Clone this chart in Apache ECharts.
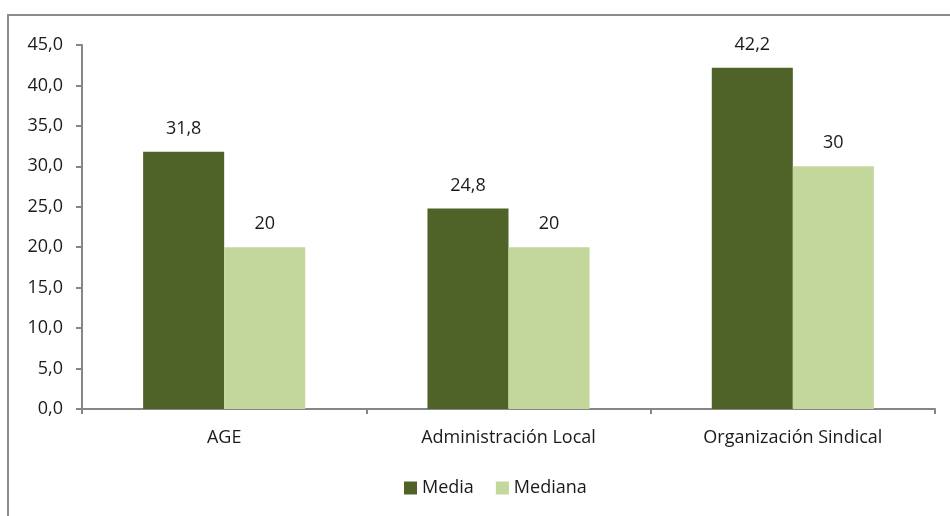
<!DOCTYPE html>
<html>
<head>
<meta charset="utf-8">
<script src="https://cdn.jsdelivr.net/npm/echarts@6/dist/echarts.min.js"></script>
<style>
    html, body { margin: 0; padding: 0; background: #fff; overflow: hidden; }
    #frame {
        position: absolute; left: 7px; top: 14px; width: 1000px; height: 600px;
        border-top: 2px solid #8c8c8c; border-left: 2px solid #8c8c8c;
    }
    #main { position: absolute; left: 0; top: 0; width: 950px; height: 516px; }
</style>
</head>
<body>
<div id="frame"></div>
<div id="main"></div>
<script>
var categories = ['AGE', 'Administración Local', 'Organización Sindical'];
var mediaData = [31.8, 24.8, 42.2];
var medianaData = [20, 20, 30];
var yTicks = [0, 5, 10, 15, 20, 25, 30, 35, 40, 45];

var darkGreen = '#4F6228';
var lightGreen = '#C3D69B';
var axisColor = '#868686';
var fontName = '"Open Sans", sans-serif';
var textColor = '#1a1a1a';

function comma(v) {
    return String(v).replace('.', ',');
}

var chart = echarts.init(document.getElementById('main'));
var option = {
    animation: false,
    grid: {
        left: 82,
        right: 15,
        top: 45,
        bottom: 107,
        containLabel: false
    },
    legend: {
        bottom: 14,
        left: 399,
        itemWidth: 13,
        itemHeight: 13,
        itemGap: 22,
        itemStyle: { borderWidth: 0 },
        icon: 'rect',
        textStyle: {
            fontFamily: fontName,
            fontSize: 18,
            color: textColor
        },
        data: ['Media', 'Mediana']
    },
    xAxis: {
        type: 'category',
        data: categories,
        axisLine: { lineStyle: { color: axisColor, width: 2 } },
        axisTick: { show: true, length: 5, lineStyle: { color: axisColor, width: 2 } },
        axisLabel: {
            fontFamily: fontName,
            fontSize: 18,
            color: textColor,
            margin: 20
        }
    },
    yAxis: {
        type: 'value',
        min: 0,
        max: 45,
        interval: 5,
        axisLine: { show: true, lineStyle: { color: axisColor, width: 2 } },
        axisTick: { show: true, length: 6, lineStyle: { color: axisColor, width: 2 } },
        splitLine: { show: false },
        axisLabel: {
            fontFamily: fontName,
            fontSize: 18,
            color: textColor,
            margin: 19,
            formatter: function (v) {
                return yTicks.indexOf(v) >= 0 ? v.toFixed(1).replace('.', ',') : '';
            }
        }
    },
    series: [{
        name: 'Media',
        type: 'bar',
        data: mediaData,
        barGap: '0%',
        barCategoryGap: '43%',
        itemStyle: { color: darkGreen },
        label: {
            show: true,
            position: 'top',
            distance: 14,
            fontFamily: fontName,
            fontSize: 18,
            color: textColor,
            formatter: function (p) { return comma(p.value); }
        }
    }, {
        name: 'Mediana',
        type: 'bar',
        data: medianaData,
        barGap: '0%',
        barCategoryGap: '43%',
        itemStyle: { color: lightGreen },
        label: {
            show: true,
            position: 'top',
            distance: 14,
            fontFamily: fontName,
            fontSize: 18,
            color: textColor,
            formatter: function (p) { return comma(p.value); }
        }
    }]
};
chart.setOption(option);
window.addEventListener('resize', function () {
    chart.resize();
});
</script>
</body>
</html>
